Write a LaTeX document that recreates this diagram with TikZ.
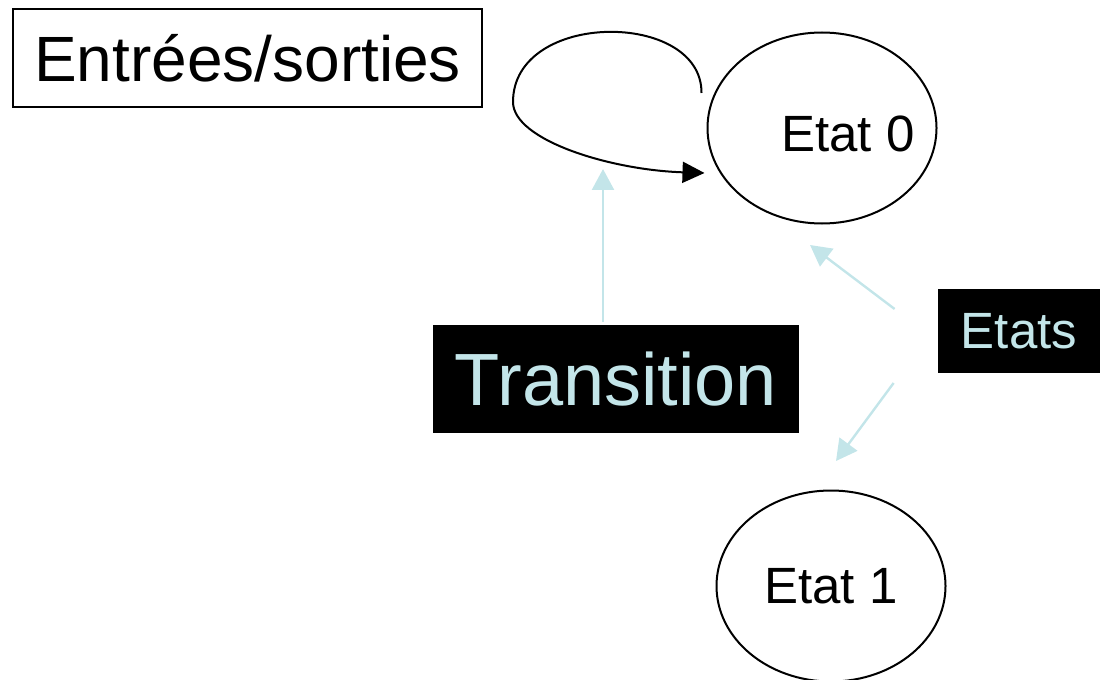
\documentclass[tikz,border=0pt]{standalone}
\usepackage{fontspec}
\setmainfont{Liberation Sans}
\usetikzlibrary{positioning, arrows.meta, calc, shapes.geometric}
\definecolor{pale}{RGB}{195,229,233}

\begin{document}
\begin{tikzpicture}[
    x=0.5pt, y=-0.5pt,
    every node/.style={font=\fontsize{25.5}{30}\selectfont},
    state/.style={draw, ellipse, line width=1pt, inner sep=0pt,
                  minimum width=114.5pt, minimum height=95.5pt},
    tag/.style={fill=black, text=pale, inner sep=0pt},
    flow/.style={-{Triangle[length=11pt, width=10.5pt]}, line width=1pt},
    hint/.style={-{Triangle[length=10.5pt, width=11pt]}, color=pale, line width=1.2pt}]
  % --- cadre du dessin ---
  \useasboundingbox (0,0) rectangle (1101,679);
  \clip (0,0) rectangle (1101,679);
  % --- les deux etats ---
  \node[state] (e0) at (822,128) {\makebox[0pt]{\raisebox{-12pt}[0pt][0pt]{\hspace{26pt}Etat 0}}};
  \node[state] (e1) at (831,586) {Etat 1};
  % --- etiquettes ---
  \node[draw, line width=1pt, minimum width=234.5pt, minimum height=49pt, inner sep=0pt,
        font=\fontsize{32}{38}\selectfont] (io) at (247.5,58) {Entrées/sorties};
  \node[tag, minimum width=183pt, minimum height=54pt,
        font=\fontsize{37}{44}\selectfont] (trans) at (616,379) {Transition};
  \node[tag, minimum width=81pt, minimum height=42pt] (etats) at (1019,331) {Etats};
  % --- bouts libres des fleches ---
  \coordinate (t0) at (603,169);
  \coordinate (s0) at (810,245);
  \coordinate (s1) at (836,461);

  \draw[flow] ($(e0.west)+(-5,-35)$) .. controls (702,10) and (513,10) .. (513,102)
        .. controls (513,140) and (610,170) .. ($(e0.west)+(-2,45)$);
  \draw[hint] ($(trans.north)+(-13,-3)$) -- (t0);
  \draw[hint] ($(etats.west)+(-43,-22)$) -- (s0);
  \draw[hint] ($(etats.west)+(-44,52)$) -- (s1);
\end{tikzpicture}
\end{document}
